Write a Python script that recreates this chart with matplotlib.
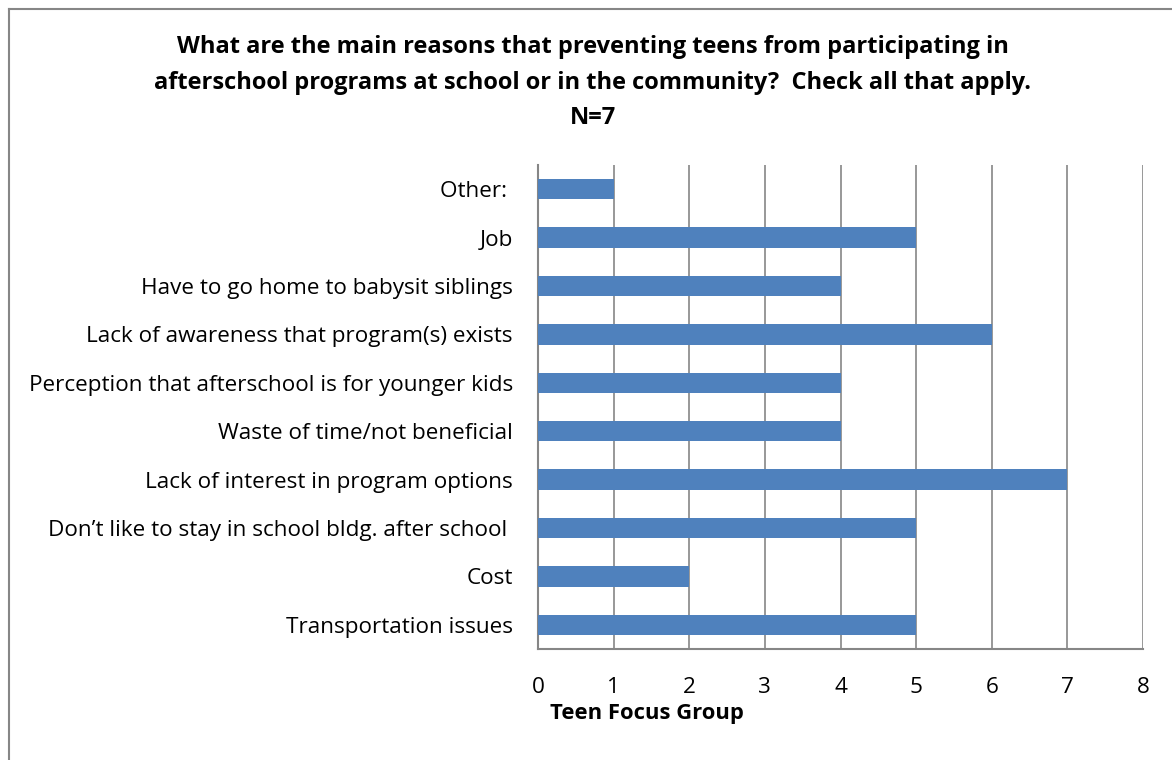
import matplotlib
matplotlib.use("Agg")
import matplotlib.pyplot as plt
from matplotlib.lines import Line2D

categories = [
    "Transportation issues",
    "Cost",
    "Don\u2019t like to stay in school bldg. after school ",
    "Lack of interest in program options",
    "Waste of time/not beneficial",
    "Perception that afterschool is for younger kids",
    "Lack of awareness that program(s) exists",
    "Have to go home to babysit siblings",
    "Job",
    "Other: ",
]
values = [5, 2, 5, 7, 4, 4, 6, 4, 5, 1]
xticks = [0, 1, 2, 3, 4, 5, 6, 7, 8]
title_lines = [
    "What are the main reasons that preventing teens from participating in",
    "afterschool programs at school or in the community?  Check all that apply.",
    "N=7",
]

plt.rcParams['font.family'] = ['Open Sans', 'DejaVu Sans']

fig = plt.figure(figsize=(11.72, 7.6), dpi=100)
fig.patch.set_facecolor("white")

# outer frame (left and top visible)
fig.add_artist(Line2D([9/1172, 9/1172], [0, 1 - 9/760], transform=fig.transFigure, color="#868686", lw=1.5))
fig.add_artist(Line2D([9/1172, 1], [1 - 9/760, 1 - 9/760], transform=fig.transFigure, color="#868686", lw=1.5))

ax = fig.add_axes([538/1172, 1 - 649/760, (1143 - 538)/1172, (649 - 165)/760])
y = list(range(len(categories)))
ax.barh(y, values, height=0.42, color="#4F81BD", zorder=3)
ax.set_xlim(0, 8)
ax.set_ylim(-0.5, len(categories) - 0.5)
ax.set_xticks(xticks)
ax.set_xticklabels([str(t) for t in xticks])
ax.set_yticks(y)
ax.set_yticklabels(categories)
ax.grid(axis="x", color="#868686", lw=1.2, zorder=0)
ax.set_axisbelow(True)
for s in ["top", "right"]:
    ax.spines[s].set_visible(False)
ax.spines["left"].set_color("#868686")
ax.spines["left"].set_linewidth(1.5)
ax.spines["bottom"].set_color("#868686")
ax.spines["bottom"].set_linewidth(1.5)
ax.tick_params(axis="both", length=0, labelsize=16.2, colors="black")
ax.tick_params(axis="x", pad=20)
ax.tick_params(axis="y", pad=18)
ax.set_xlabel("Teen Focus Group", fontsize=15.8, fontweight="bold")
ax.xaxis.set_label_coords((647 - 538)/605, -0.112)

for i, (line, ypix) in enumerate(zip(title_lines, [47, 83, 118])):
    fig.text(593/1172, 1 - ypix/760, line, ha="center", va="center",
             fontsize=17, fontweight="bold")

fig.savefig("out.png", dpi=100)
